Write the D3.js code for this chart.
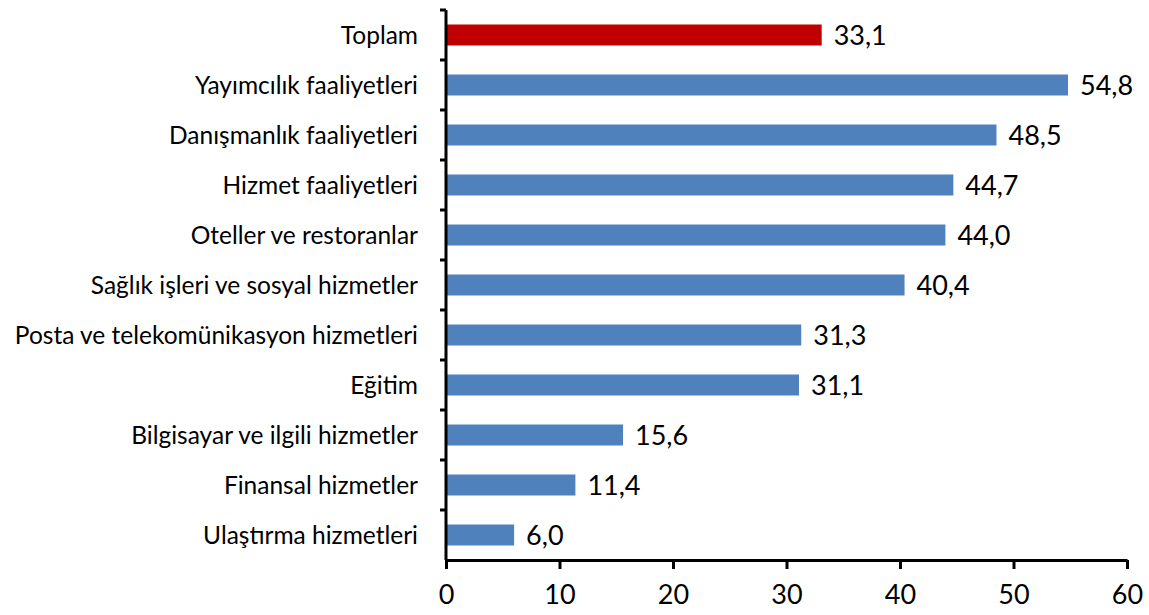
<!DOCTYPE html>
<html>
<head>
<meta charset="utf-8">
<script src="https://cdn.jsdelivr.net/npm/d3@7"></script>
<style>
  body { margin: 0; background: #fff; }
  text { font-family: Lato, "Open Sans", sans-serif; fill: #000; }
</style>
</head>
<body>
<div id="chart"></div>
<script>
// values
var categories = [
    "Toplam",
    "Yayımcılık faaliyetleri",
    "Danışmanlık faaliyetleri",
    "Hizmet faaliyetleri",
    "Oteller ve restoranlar",
    "Sağlık işleri ve sosyal hizmetler",
    "Posta ve telekomünikasyon hizmetleri",
    "Eğitim",
    "Bilgisayar ve ilgili hizmetler",
    "Finansal hizmetler",
    "Ulaştırma hizmetleri"
];
var values = [33.1, 54.8, 48.5, 44.7, 44.0, 40.4, 31.3, 31.1, 15.6, 11.4, 6.0];
var xTicks = [0, 10, 20, 30, 40, 50, 60];

var width = 1149, height = 615;
var margin = {top: 10, right: 22, bottom: 55, left: 446};

var svg = d3.select("#chart").append("svg")
    .attr("width", width)
    .attr("height", height);

var x = d3.scaleLinear()
    .domain([0, 60])
    .range([margin.left, width - margin.right]);

var y = d3.scaleBand()
    .domain(categories)
    .range([margin.top, height - margin.bottom])
    .paddingInner(0.58)
    .paddingOuter(0.29);

var fmt = function(v) { return v.toFixed(1).replace(".", ","); };

// bars
svg.append("g").selectAll("rect")
    .data(values)
    .enter().append("rect")
      .attr("x", x(0))
      .attr("y", function(d, i) { return y(categories[i]); })
      .attr("width", function(d) { return x(d) - x(0); })
      .attr("height", y.bandwidth())
      .attr("fill", function(d, i) { return i == 0 ? "#C00000" : "#4F81BD"; });

// value labels
svg.append("g").selectAll("text")
    .data(values)
    .enter().append("text")
      .attr("x", function(d) { return x(d) + 12; })
      .attr("y", function(d, i) { return y(categories[i]) + y.bandwidth() / 2; })
      .attr("dy", "0.37em")
      .style("font-size", "27px")
      .text(fmt);

// category labels
svg.append("g").selectAll("text")
    .data(categories)
    .enter().append("text")
      .attr("x", margin.left - 28)
      .attr("y", function(d) { return y(d) + y.bandwidth() / 2; })
      .attr("dy", "0.36em")
      .attr("text-anchor", "end")
      .style("font-size", "24.5px")
      .text(function(d) { return d; });

// y axis line + ticks at band boundaries
var yTop = margin.top, yBot = height - margin.bottom;
svg.append("line")
    .attr("x1", x(0)).attr("x2", x(0))
    .attr("y1", yTop).attr("y2", yBot)
    .attr("stroke", "#000").attr("stroke-width", 3);

var step = y.step();
var bounds = d3.range(categories.length).map(function(i) { return yTop + i * step; });
svg.append("g").selectAll("line")
    .data(bounds)
    .enter().append("line")
      .attr("x1", x(0) - 6).attr("x2", x(0))
      .attr("y1", function(d) { return d; })
      .attr("y2", function(d) { return d; })
      .attr("stroke", "#000").attr("stroke-width", 3);

// x axis
var xAxis = svg.append("g")
    .attr("transform", "translate(0," + yBot + ")")
    .call(d3.axisBottom(x).tickValues(xTicks).tickSize(9).tickSizeOuter(0).tickPadding(16));
xAxis.select(".domain").attr("stroke", "#000").attr("stroke-width", 3);
xAxis.selectAll(".tick line").attr("stroke", "#000").attr("stroke-width", 3);
xAxis.selectAll(".tick text")
    .style("font-size", "27px")
    .style("font-family", "Lato, 'Open Sans', sans-serif");
</script>
</body>
</html>
